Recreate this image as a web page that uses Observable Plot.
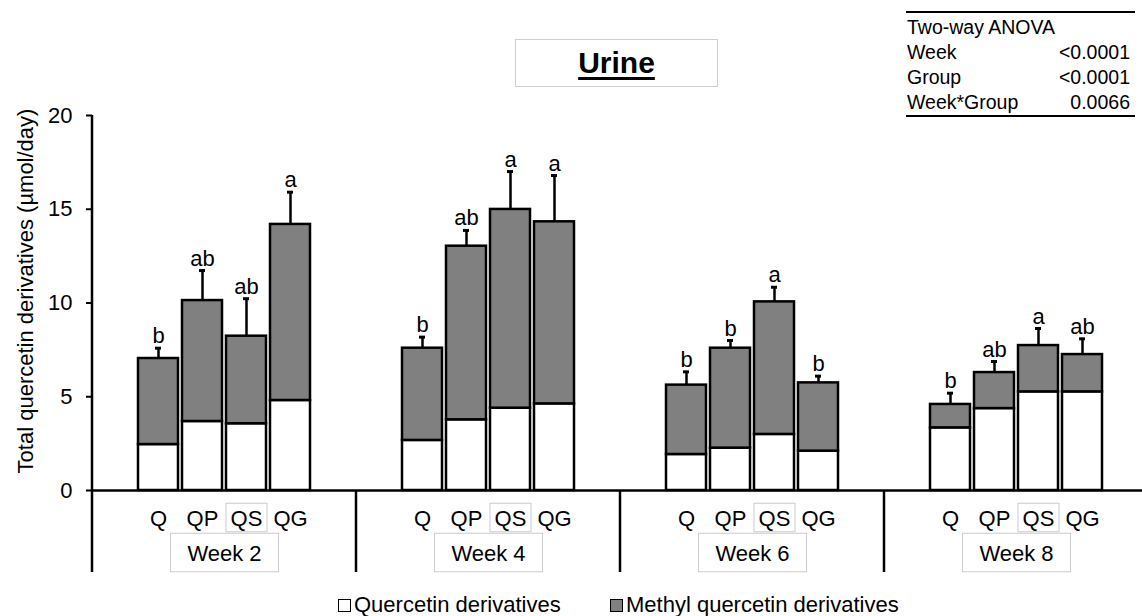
<!DOCTYPE html>
<html><head><meta charset="utf-8">
<script src="https://cdn.jsdelivr.net/npm/d3@7"></script>
<script src="https://cdn.jsdelivr.net/npm/@observablehq/plot@0.6"></script>
<style>
html,body{margin:0;padding:0;background:#fff;overflow:hidden;font-family:"Liberation Sans",Arial,sans-serif;color:#000;}
#wrap{position:relative;width:1142px;height:616px;overflow:hidden;}
#chart{position:absolute;left:0;top:100px;}
#title{position:absolute;left:515px;top:39px;width:201px;height:46px;border:1px solid #cfcfcf;text-align:center;font-weight:bold;font-size:30px;line-height:46px;text-decoration:underline;text-decoration-thickness:3px;text-underline-offset:4px;}
#anova{position:absolute;left:906px;top:11px;width:229px;border-top:2.5px solid #000;border-bottom:2.5px solid #000;padding-top:1.5px;font-size:19.5px;}
#anova .row{display:flex;justify-content:space-between;height:25px;line-height:25px;padding-right:5px;padding-left:1px;}
.leg{position:absolute;top:592px;font-size:22px;line-height:26px;display:flex;align-items:center;white-space:nowrap;}
.sw{width:11px;height:11px;border:1.5px solid #000;margin-right:3px;}
</style>
</head><body>
<div id="wrap">
  <div id="chart"></div>
  <div id="title">Urine</div>
  <div id="anova">
    <div class="row"><span>Two-way ANOVA</span><span></span></div>
    <div class="row"><span>Week</span><span>&lt;0.0001</span></div>
    <div class="row"><span>Group</span><span>&lt;0.0001</span></div>
    <div class="row"><span>Week*Group</span><span>0.0066</span></div>
  </div>
  <div class="leg" style="left:338px"><div class="sw" style="background:#fff"></div>Quercetin derivatives</div>
  <div class="leg" style="left:610px"><div class="sw" style="background:#808080"></div>Methyl quercetin derivatives</div>
</div>
<script>
const weeks = ["Week 2", "Week 4", "Week 6", "Week 8"];
const groups = ["Q", "QP", "QS", "QG"];
const series = ["Quercetin derivatives", "Methyl quercetin derivatives"];
const yTicks = [0, 5, 10, 15, 20];
const yTitle = "Total quercetin derivatives (µmol/day)";
// per week (rows) and group (columns)
const quercetin = [[2.45, 3.68, 3.56, 4.80], [2.67, 3.77, 4.39, 4.62], [1.92, 2.26, 2.99, 2.10], [3.34, 4.37, 5.26, 5.26]];
const methyl    = [[4.59, 6.45, 4.67, 9.39], [4.92, 9.26, 10.60, 9.71], [3.70, 5.33, 7.07, 3.64], [1.25, 1.92, 2.47, 1.99]];
const sd        = [[0.55, 1.60, 2.00, 1.72], [0.59, 0.84, 2.02, 2.47], [0.71, 0.41, 0.78, 0.36], [0.60, 0.59, 0.91, 0.84]];
const letters   = [["b", "ab", "ab", "a"], ["b", "ab", "a", "a"], ["b", "b", "a", "b"], ["b", "ab", "a", "ab"]];

const rows = [];
const totals = [];
weeks.forEach((w, i) => groups.forEach((g, j) => {
  rows.push({week: w, group: g, series: series[0], value: quercetin[i][j]});
  rows.push({week: w, group: g, series: series[1], value: methyl[i][j]});
  const t = quercetin[i][j] + methyl[i][j];
  totals.push({week: w, group: g, total: t, top: t + sd[i][j], letter: letters[i][j]});
}));

const font = '"Liberation Sans", Arial, sans-serif';
const plot = Plot.plot({
  width: 1148, height: 480,
  marginLeft: 92, marginRight: 0, marginTop: 15, marginBottom: 90,
  style: {fontFamily: font, fontSize: "22px", maxWidth: "none", overflow: "visible", color: "#000", background: "transparent"},
  fx: {domain: weeks, padding: 0, label: null},
  x: {domain: groups, paddingInner: 0.1, paddingOuter: 1.02, label: null},
  y: {domain: [0, 20], label: null},
  color: {domain: series, range: ["#ffffff", "#808080"]},
  marks: [
    Plot.barY(rows, {fx: "week", x: "group", y: "value", fill: "series", stroke: "#000", strokeWidth: 2.5}),
    Plot.ruleX(totals, {fx: "week", x: "group", y1: "total", y2: "top", stroke: "#000", strokeWidth: 2.5}),
    Plot.tickY(totals, {fx: "week", x: "group", y: "top", stroke: "#000", strokeWidth: 3, insetLeft: 17, insetRight: 17}),
    Plot.text(totals, {fx: "week", x: "group", y: "top", text: "letter", lineAnchor: "bottom", dy: -5, fontSize: 22}),
    Plot.ruleY([0], {stroke: "#000", strokeWidth: 2.5}),
    Plot.axisY({ticks: yTicks, tickSize: 6, tickPadding: 14, strokeWidth: 2, label: null, fontSize: 22}),
    Plot.axisX({tickSize: 0, tickPadding: 20, label: null, fontSize: 22}),
    Plot.axisFx({anchor: "bottom", tickSize: 0, tickPadding: 55, label: null, fontSize: 22})
  ]
});
document.getElementById("chart").append(plot);

const svg = d3.select(plot);
const fx = plot.scale("fx"), y = plot.scale("y");
const yBottom = 472;
weeks.forEach((w, i) => {
  const xL = fx.apply(w);
  svg.append("line").attr("x1", xL).attr("x2", xL)
    .attr("y1", i === 0 ? y.apply(20) : y.apply(0)).attr("y2", yBottom)
    .attr("stroke", "#000").attr("stroke-width", 2.5);
});
const sr = plot.getBoundingClientRect();
const boxes = [];
svg.selectAll("text").each(function() {
  const t = this.textContent;
  if (t === "QS" || t.startsWith("Week")) {
    const b = this.getBoundingClientRect();
    const cx = (b.left + b.right) / 2 - sr.left;
    const w = t === "QS" ? 41 : 108, h = t === "QS" ? 28.5 : 38.5;
    const cy = t === "QS" ? 417.5 : 452.5;
    boxes.push({cx, cy, w, h});
  }
});
boxes.forEach(b => svg.append("rect").attr("x", b.cx - b.w / 2).attr("y", b.cy - b.h / 2)
  .attr("width", b.w).attr("height", b.h).attr("fill", "none").attr("stroke", "#cccccc").attr("stroke-width", 1));
svg.append("text").attr("transform", "translate(25,191) rotate(-90)")
  .attr("text-anchor", "middle").attr("dominant-baseline", "central")
  .attr("font-size", 22).attr("fill", "#000").text(yTitle);
</script>
</body></html>
